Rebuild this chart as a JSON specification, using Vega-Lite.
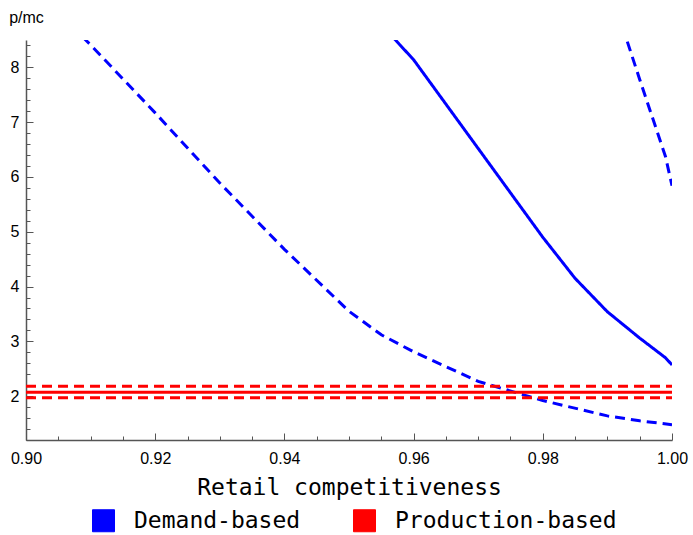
{
  "$schema": "https://vega.github.io/schema/vega-lite/v6.json",
  "width": 646,
  "height": 400,
  "autosize": {"type": "none"},
  "padding": {"left": 26, "top": 40, "right": 21, "bottom": 95},
  "background": "white",
  "config": {
    "view": {"stroke": null},
    "axis": {
      "grid": false,
      "domainColor": "#555555",
      "domainWidth": 1.5,
      "tickColor": "#555555",
      "tickWidth": 1,
      "labelFont": "Liberation Sans",
      "labelFontSize": 16,
      "labelColor": "#000000",
      "labelFlush": false,
      "labelOverlap": false
    }
  },
  "data": {
    "values": [
      {"x": 0.90, "y": 9.6, "curve": "d_low", "series": "Demand-based", "dash": "dashed"},
      {"x": 0.91, "y": 8.41, "curve": "d_low", "series": "Demand-based", "dash": "dashed"},
      {"x": 0.92, "y": 7.17, "curve": "d_low", "series": "Demand-based", "dash": "dashed"},
      {"x": 0.93, "y": 5.89, "curve": "d_low", "series": "Demand-based", "dash": "dashed"},
      {"x": 0.94, "y": 4.68, "curve": "d_low", "series": "Demand-based", "dash": "dashed"},
      {"x": 0.95, "y": 3.55, "curve": "d_low", "series": "Demand-based", "dash": "dashed"},
      {"x": 0.955, "y": 3.12, "curve": "d_low", "series": "Demand-based", "dash": "dashed"},
      {"x": 0.96, "y": 2.81, "curve": "d_low", "series": "Demand-based", "dash": "dashed"},
      {"x": 0.97, "y": 2.27, "curve": "d_low", "series": "Demand-based", "dash": "dashed"},
      {"x": 0.98, "y": 1.92, "curve": "d_low", "series": "Demand-based", "dash": "dashed"},
      {"x": 0.99, "y": 1.64, "curve": "d_low", "series": "Demand-based", "dash": "dashed"},
      {"x": 0.995, "y": 1.55, "curve": "d_low", "series": "Demand-based", "dash": "dashed"},
      {"x": 1.0, "y": 1.48, "curve": "d_low", "series": "Demand-based", "dash": "dashed"},
      {"x": 0.95, "y": 9.42, "curve": "d_mid", "series": "Demand-based", "dash": "solid"},
      {"x": 0.96, "y": 8.14, "curve": "d_mid", "series": "Demand-based", "dash": "solid"},
      {"x": 0.97, "y": 6.52, "curve": "d_mid", "series": "Demand-based", "dash": "solid"},
      {"x": 0.98, "y": 4.90, "curve": "d_mid", "series": "Demand-based", "dash": "solid"},
      {"x": 0.985, "y": 4.15, "curve": "d_mid", "series": "Demand-based", "dash": "solid"},
      {"x": 0.99, "y": 3.54, "curve": "d_mid", "series": "Demand-based", "dash": "solid"},
      {"x": 0.995, "y": 3.06, "curve": "d_mid", "series": "Demand-based", "dash": "solid"},
      {"x": 0.999, "y": 2.70, "curve": "d_mid", "series": "Demand-based", "dash": "solid"},
      {"x": 1.0, "y": 2.57, "curve": "d_mid", "series": "Demand-based", "dash": "solid"},
      {"x": 0.99, "y": 9.58, "curve": "d_high", "series": "Demand-based", "dash": "dashed"},
      {"x": 0.995, "y": 7.78, "curve": "d_high", "series": "Demand-based", "dash": "dashed"},
      {"x": 0.999, "y": 6.37, "curve": "d_high", "series": "Demand-based", "dash": "dashed"},
      {"x": 1.0, "y": 5.84, "curve": "d_high", "series": "Demand-based", "dash": "dashed"},
      {"x": 0.90, "y": 2.18, "curve": "p_up", "series": "Production-based", "dash": "dashed"},
      {"x": 1.0, "y": 2.18, "curve": "p_up", "series": "Production-based", "dash": "dashed"},
      {"x": 0.90, "y": 2.07, "curve": "p_mid", "series": "Production-based", "dash": "solid"},
      {"x": 1.0, "y": 2.07, "curve": "p_mid", "series": "Production-based", "dash": "solid"},
      {"x": 0.90, "y": 1.97, "curve": "p_low", "series": "Production-based", "dash": "dashed"},
      {"x": 1.0, "y": 1.97, "curve": "p_low", "series": "Production-based", "dash": "dashed"}
    ]
  },
  "mark": {"type": "line", "strokeWidth": 3, "clip": true},
  "encoding": {
    "x": {
      "field": "x",
      "type": "quantitative",
      "scale": {"domain": [0.9, 1.0], "nice": false, "zero": false},
      "axis": {
        "title": "Retail competitiveness",
        "titleFont": "DejaVu Sans Mono",
        "titleFontSize": 23,
        "titleFontWeight": "normal",
        "titleColor": "#000000",
        "titleY": 47,
        "titleBaseline": "middle",
        "values": [0.9, 0.905, 0.91, 0.915, 0.92, 0.925, 0.93, 0.935, 0.94, 0.945, 0.95, 0.955, 0.96, 0.965, 0.97, 0.975, 0.98, 0.985, 0.99, 0.995, 1.0],
        "labelExpr": "abs(datum.value * 50 - round(datum.value * 50)) < 0.000001 ? format(datum.value, '.2f') : ''",
        "tickSize": {"condition": {"test": "abs(datum.value * 50 - round(datum.value * 50)) < 0.000001", "value": -7}, "value": -4},
        "labelPadding": 17
      }
    },
    "y": {
      "field": "y",
      "type": "quantitative",
      "scale": {"domain": [1.2, 8.5], "nice": false, "zero": false},
      "axis": {
        "title": "p/mc",
        "titleAngle": 0,
        "titleX": 0,
        "titleY": -23,
        "titleAlign": "center",
        "titleBaseline": "middle",
        "titleFont": "Liberation Sans",
        "titleFontSize": 16,
        "titleFontWeight": "normal",
        "titleColor": "#000000",
        "values": [1.2, 1.4, 1.6, 1.8, 2, 2.2, 2.4, 2.6, 2.8, 3, 3.2, 3.4, 3.6, 3.8, 4, 4.2, 4.4, 4.6, 4.8, 5, 5.2, 5.4, 5.6, 5.8, 6, 6.2, 6.4, 6.6, 6.8, 7, 7.2, 7.4, 7.6, 7.8, 8, 8.2, 8.4],
        "labelExpr": "abs(datum.value - round(datum.value)) < 0.000001 ? format(datum.value, 'd') : ''",
        "tickSize": {"condition": {"test": "abs(datum.value - round(datum.value)) < 0.000001", "value": -7}, "value": -4},
        "labelPadding": 14
      }
    },
    "color": {
      "field": "series",
      "type": "nominal",
      "scale": {"domain": ["Demand-based", "Production-based"], "range": ["#0000ff", "#ff0000"]},
      "legend": {
        "title": null,
        "orient": "none",
        "direction": "horizontal",
        "legendX": 66,
        "legendY": 469,
        "symbolType": "square",
        "symbolSize": 484,
        "symbolStrokeWidth": 1,
        "labelFont": "DejaVu Sans Mono",
        "labelFontSize": 23,
        "labelColor": "#000000",
        "labelOffset": 19,
        "columnPadding": 50,
        "labelLimit": 400,
        "encoding": {
          "symbols": {
            "fill": {"condition": {"test": "datum.value === 'Demand-based'", "value": "#0000ff"}, "value": "#ff0000"},
            "fillOpacity": {"value": 1},
            "stroke": {"condition": {"test": "datum.value === 'Demand-based'", "value": "#0000b0"}, "value": "#a00000"},
            "strokeWidth": {"value": 1},
            "strokeDash": {"value": []}
          }
        }
      }
    },
    "strokeDash": {
      "field": "dash",
      "type": "nominal",
      "scale": {"domain": ["solid", "dashed"], "range": [[1, 0], [10, 6]]},
      "legend": null
    },
    "detail": {"field": "curve", "type": "nominal"}
  }
}
